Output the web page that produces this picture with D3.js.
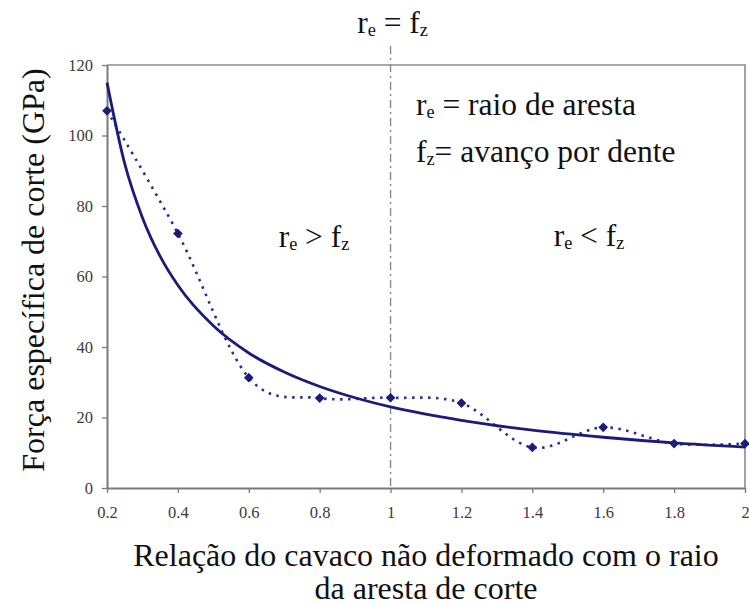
<!DOCTYPE html>
<html>
<head>
<meta charset="utf-8">
<script src="https://cdn.jsdelivr.net/npm/d3@7"></script>
<style>
  html, body { margin: 0; padding: 0; background: #fff; }
  svg { display: block; }
</style>
</head>
<body>
<svg id="chart" width="749" height="606"></svg>
<script>
// Measured points: relação (x) vs. força específica de corte (GPa)
const ratios = [0.2, 0.4, 0.6, 0.8, 1.0, 1.2, 1.4, 1.6, 1.8, 2.0];
const forces = [107, 72.2, 31.3, 25.5, 25.6, 24.1, 11.5, 17.2, 12.6, 12.6];

// Trend curve samples (power trend)
const trendX = [0.2, 0.25, 0.3, 0.35, 0.4, 0.5, 0.6, 0.7, 0.8, 0.9, 1.0, 1.2, 1.4, 1.6, 1.8, 2.0];
const trendY = [115, 92, 76.7, 65.7, 57.5, 46, 38.3, 32.9, 28.8, 25.6, 23, 19.2, 16.4, 14.4, 12.8, 11.6];

// Axis ticks
const xTicks = [0.2, 0.4, 0.6, 0.8, 1, 1.2, 1.4, 1.6, 1.8, 2];
const xTickLabels = ["0.2", "0.4", "0.6", "0.8", "1", "1.2", "1.4", "1.6", "1.8", "2"];
const yTicks = [0, 20, 40, 60, 80, 100, 120];

const FONT = "'Liberation Serif', Tinos, 'Times New Roman', 'DejaVu Serif', serif";

const svg = d3.select("#chart").attr("font-family", FONT);
const plotL = 107, plotR = 745, plotT = 65, plotB = 488;

const x = d3.scaleLinear().domain([0.2, 2]).range([plotL, plotR]);
const y = d3.scaleLinear().domain([0, 120]).range([plotB, plotT]);

const axisColor = "#7a7a7a";
const navy = "#1c1c78";
const tickTextColor = "#3c3c3c";

// Frame (top and right edges)
svg.append("path")
  .attr("d", `M${plotL},${plotT}H${plotR}V${plotB}`)
  .attr("fill", "none")
  .attr("stroke", "#8c8c8c")
  .attr("stroke-width", 1.6);

// Boundary r_e = f_z
svg.append("line")
  .attr("x1", x(1)).attr("x2", x(1))
  .attr("y1", 46).attr("y2", plotB)
  .attr("stroke", "#8a8a8a")
  .attr("stroke-width", 1.4)
  .attr("stroke-dasharray", "8,4,2,4");

// Y axis
const yAxis = svg.append("g")
  .attr("transform", `translate(${plotL},0)`)
  .call(d3.axisLeft(y).tickValues(yTicks).tickSize(5).tickPadding(9).tickSizeOuter(0));
yAxis.attr("font-family", FONT);
yAxis.select(".domain").attr("stroke", axisColor).attr("stroke-width", 2);
yAxis.selectAll(".tick line").attr("stroke", axisColor).attr("stroke-width", 1.3);
yAxis.selectAll(".tick text")
  .attr("font-family", FONT)
  .attr("font-size", 16.5)
  .attr("fill", tickTextColor);

// X axis
const xAxis = svg.append("g")
  .attr("transform", `translate(0,${plotB})`)
  .call(d3.axisBottom(x).tickValues(xTicks).tickFormat((d, i) => xTickLabels[i])
    .tickSize(5).tickPadding(13).tickSizeOuter(0));
xAxis.attr("font-family", FONT);
xAxis.select(".domain").attr("stroke", axisColor).attr("stroke-width", 2);
xAxis.selectAll(".tick line").attr("stroke", axisColor).attr("stroke-width", 1.3);
xAxis.selectAll(".tick text")
  .attr("font-family", FONT)
  .attr("font-size", 16.5)
  .attr("fill", tickTextColor);

// Smoothed dotted line through the measurements
const measured = ratios.map((r, i) => [r, forces[i]]);
svg.append("path")
  .datum(measured)
  .attr("fill", "none")
  .attr("stroke", "#2b2b95")
  .attr("stroke-width", 2.6)
  .attr("stroke-dasharray", "2.5,5.5")
  .attr("d", d3.line().x(d => x(d[0])).y(d => y(d[1])).curve(d3.curveCardinal.tension(0)));

// Power trend curve
const trend = trendX.map((t, i) => [t, trendY[i]]);
svg.append("path")
  .datum(trend)
  .attr("fill", "none")
  .attr("stroke", navy)
  .attr("stroke-width", 2.8)
  .attr("d", d3.line().x(d => x(d[0])).y(d => y(d[1])).curve(d3.curveMonotoneX));

// Diamond markers
svg.append("g").selectAll("path")
  .data(measured)
  .join("path")
  .attr("transform", d => `translate(${x(d[0])},${y(d[1])})`)
  .attr("d", d3.symbol(d3.symbolDiamond2, 60)())
  .attr("fill", navy);

// Text with subscripts
function subText(g, parts, xPos, yPos, size, anchor) {
  const t = g.append("text")
    .attr("x", xPos).attr("y", yPos)
    .attr("font-family", FONT)
    .attr("font-size", size)
    .attr("fill", "#111")
    .attr("text-anchor", anchor || "start");
  parts.forEach(p => {
    const s = t.append("tspan").text(p.t);
    if (p.sub) {
      s.attr("font-size", size * 0.58).attr("dy", size * 0.1);
    } else if (p.after) {
      s.attr("dy", -size * 0.1);
    }
  });
  return t;
}

const annSize = 31.5;
subText(svg, [{t: "r"}, {t: "e", sub: true}, {t: " = f", after: true}, {t: "z", sub: true}], x(1) + 2, 33, annSize, "middle");
subText(svg, [{t: "r"}, {t: "e", sub: true}, {t: " = raio de aresta", after: true}], 416, 115, annSize);
subText(svg, [{t: "f"}, {t: "z", sub: true}, {t: "= avanço por dente", after: true}], 416, 162, annSize);
subText(svg, [{t: "r"}, {t: "e", sub: true}, {t: " > f", after: true}, {t: "z", sub: true}], 314, 247, annSize, "middle");
subText(svg, [{t: "r"}, {t: "e", sub: true}, {t: " < f", after: true}, {t: "z", sub: true}], 589, 246, annSize, "middle");

// Axis titles
const titleSize = 32;
svg.append("text")
  .attr("transform", `translate(44,270) rotate(-90)`)
  .attr("text-anchor", "middle")
  .attr("font-family", FONT)
  .attr("font-size", titleSize)
  .attr("fill", "#111")
  .text("Força específica de corte (GPa)");

svg.append("text")
  .attr("x", 426).attr("y", 566)
  .attr("text-anchor", "middle")
  .attr("font-family", FONT)
  .attr("font-size", titleSize)
  .attr("fill", "#111")
  .text("Relação do cavaco não deformado com o raio");
svg.append("text")
  .attr("x", 426).attr("y", 599)
  .attr("text-anchor", "middle")
  .attr("font-family", FONT)
  .attr("font-size", titleSize)
  .attr("fill", "#111")
  .text("da aresta de corte");
</script>
</body>
</html>
